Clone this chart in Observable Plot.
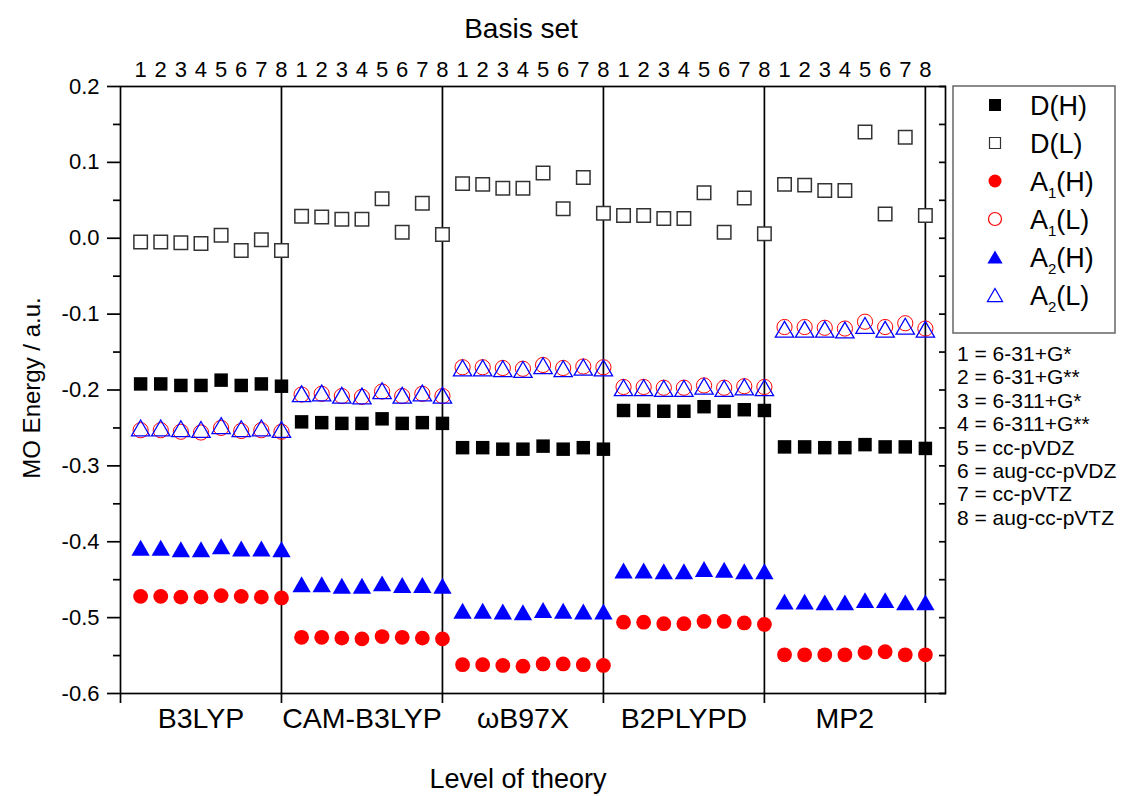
<!DOCTYPE html>
<html><head><meta charset="utf-8">
<script src="https://cdn.jsdelivr.net/npm/d3@7"></script>
<script src="https://cdn.jsdelivr.net/npm/@observablehq/plot@0.6"></script>
<style>
body{margin:0;background:#fff;font-family:"Liberation Sans",Arial,sans-serif}
svg text{font-family:"Liberation Sans",Arial,sans-serif}
</style>
</head><body><div id="chart"></div>
<script>
// ---- data ----
const methods = ["B3LYP", "CAM-B3LYP", "ωB97X", "B2PLYPD", "MP2"];
const basisTicks = ["1", "2", "3", "4", "5", "6", "7", "8"];
const basisSets = ["6-31+G*", "6-31+G**", "6-311+G*", "6-311+G**", "cc-pVDZ", "aug-cc-pVDZ", "cc-pVTZ", "aug-cc-pVTZ"];
const yMajorTicks = [0.2, 0.1, 0.0, -0.1, -0.2, -0.3, -0.4, -0.5, -0.6];
const yMinorTicks = [0.15, 0.05, -0.05, -0.15, -0.25, -0.35, -0.45, -0.55];

// values per method (B3LYP, CAM-B3LYP, wB97X, B2PLYPD, MP2), 8 basis sets each
const D_H = [
  -0.192,-0.192,-0.194,-0.194,-0.187,-0.194,-0.192,-0.195,
  -0.242,-0.243,-0.244,-0.244,-0.238,-0.244,-0.243,-0.244,
  -0.276,-0.276,-0.278,-0.278,-0.274,-0.278,-0.276,-0.278,
  -0.227,-0.227,-0.228,-0.228,-0.222,-0.228,-0.226,-0.227,
  -0.275,-0.275,-0.276,-0.276,-0.272,-0.275,-0.275,-0.277
];
const D_L = [
  -0.005,-0.005,-0.006,-0.007, 0.004,-0.016,-0.002,-0.016,
   0.029, 0.028, 0.025, 0.025, 0.052, 0.008, 0.046, 0.005,
   0.072, 0.071, 0.066, 0.066, 0.086, 0.039, 0.080, 0.033,
   0.030, 0.030, 0.026, 0.026, 0.060, 0.008, 0.053, 0.006,
   0.071, 0.070, 0.063, 0.063, 0.140, 0.032, 0.133, 0.030
];
const A1_H = [
  -0.472,-0.472,-0.473,-0.473,-0.471,-0.472,-0.473,-0.474,
  -0.526,-0.526,-0.527,-0.528,-0.525,-0.526,-0.527,-0.528,
  -0.562,-0.562,-0.563,-0.564,-0.561,-0.561,-0.562,-0.563,
  -0.506,-0.506,-0.508,-0.508,-0.505,-0.505,-0.507,-0.509,
  -0.549,-0.549,-0.549,-0.549,-0.546,-0.545,-0.549,-0.549
];
const A1_L = [
  -0.253,-0.253,-0.255,-0.256,-0.250,-0.254,-0.253,-0.255,
  -0.206,-0.205,-0.208,-0.209,-0.202,-0.208,-0.205,-0.208,
  -0.170,-0.170,-0.171,-0.172,-0.167,-0.171,-0.169,-0.170,
  -0.196,-0.196,-0.197,-0.197,-0.194,-0.197,-0.195,-0.196,
  -0.117,-0.117,-0.118,-0.119,-0.110,-0.117,-0.112,-0.119
];
const A2_H = [
  -0.408,-0.408,-0.410,-0.410,-0.406,-0.409,-0.409,-0.410,
  -0.456,-0.456,-0.458,-0.458,-0.455,-0.457,-0.457,-0.458,
  -0.491,-0.491,-0.492,-0.493,-0.490,-0.491,-0.492,-0.492,
  -0.438,-0.438,-0.439,-0.439,-0.436,-0.437,-0.439,-0.439,
  -0.479,-0.479,-0.480,-0.480,-0.477,-0.477,-0.480,-0.480
];
const A2_L = [
  -0.250,-0.250,-0.251,-0.252,-0.247,-0.251,-0.250,-0.252,
  -0.205,-0.204,-0.207,-0.208,-0.201,-0.207,-0.204,-0.207,
  -0.171,-0.171,-0.172,-0.173,-0.168,-0.172,-0.170,-0.171,
  -0.197,-0.197,-0.198,-0.198,-0.195,-0.198,-0.196,-0.197,
  -0.120,-0.120,-0.120,-0.121,-0.115,-0.120,-0.116,-0.120
];

// ---- build table ----
const positions = d3.range(1, methods.length * basisTicks.length + 1);
const toRows = arr => arr.map((v, i) => ({pos: positions[i], value: v, method: methods[Math.floor(i / 8)], basis: basisTicks[i % 8]}));
const separators = methods.map((m, i) => (i + 1) * 8);
const boundaryTicks = [0, ...separators];
const mids = methods.map((m, i) => i * 8 + 4);

const plot = Plot.plot({
  width: 1123,
  height: 796,
  marginLeft: 120,
  marginRight: 178,
  marginTop: 86,
  marginBottom: 103,
  style: {fontFamily: '"Liberation Sans", Arial, sans-serif', color: "black", background: "white"},
  x: {domain: [0, 41], axis: null},
  y: {domain: [-0.6, 0.2], axis: null},
  marks: [
    Plot.ruleX(separators, {stroke: "black", strokeWidth: 1.7}),
    Plot.frame({stroke: "black", strokeWidth: 1.7}),
    Plot.axisY(yMajorTicks, {anchor: "left", tickSize: 13, tickPadding: 8, strokeWidth: 1.7, fontSize: 22, tickFormat: d => d.toFixed(1), label: null}),
    Plot.axisY(yMinorTicks, {anchor: "left", tickSize: 7, strokeWidth: 1.7, tickFormat: () => "", label: null}),
    Plot.axisY([...yMajorTicks, ...yMinorTicks], {anchor: "right", tickSize: -7, strokeWidth: 1.7, tickFormat: () => "", label: null}),
    Plot.axisX(positions, {anchor: "top", tickSize: 0, tickPadding: 10, fontSize: 22, tickFormat: p => basisTicks[(p - 1) % 8], label: null}),
    Plot.axisX(boundaryTicks, {anchor: "bottom", tickSize: 10, strokeWidth: 1.7, tickFormat: () => "", label: null}),
    Plot.axisX(mids, {anchor: "bottom", tickSize: 0, tickPadding: 14, fontSize: 28.5, tickFormat: p => methods[(p - 4) / 8], label: null}),
    Plot.dot(toRows(D_L), {x: "pos", y: "value", symbol: "square", r: 7.6, fill: "white", stroke: "#333", strokeWidth: 1.5}),
    Plot.dot(toRows(D_H), {x: "pos", y: "value", symbol: "square", r: 7.6, fill: "black"}),
    Plot.dot(toRows(A1_L), {x: "pos", y: "value", symbol: "circle", r: 7.6, fill: "none", stroke: "#ff0000", strokeWidth: 1}),
    Plot.dot(toRows(A2_L), {x: "pos", y: "value", symbol: "triangle", r: 6.8, dy: 2.6, fill: "none", stroke: "#0000ff", strokeWidth: 1.3}),
    Plot.dot(toRows(A1_H), {x: "pos", y: "value", symbol: "circle", r: 7.4, fill: "#ff0000"}),
    Plot.dot(toRows(A2_H), {x: "pos", y: "value", symbol: "triangle", r: 6.8, dy: 2.6, fill: "#0000ff"})
  ]
});
document.getElementById("chart").appendChild(plot);

// ---- titles, legend, basis key ----
const svg = d3.select(plot);
const ff = '"Liberation Sans", Arial, sans-serif';
svg.append("text").attr("x", 521).attr("y", 38).attr("text-anchor", "middle")
  .attr("font-size", 28).attr("font-family", ff).attr("fill", "black").text("Basis set");
svg.append("text").attr("x", 518).attr("y", 788).attr("text-anchor", "middle")
  .attr("font-size", 27).attr("font-family", ff).attr("fill", "black").text("Level of theory");
svg.append("text").attr("transform", "translate(40,388) rotate(-90)").attr("text-anchor", "middle")
  .attr("font-size", 24).attr("font-family", ff).attr("fill", "black").text("MO Energy / a.u.");

const legendItems = [
  {base: "D", sub: "", rest: "(H)", type: d3.symbolSquare, size: 144, fill: "black", stroke: "none", dy: 0},
  {base: "D", sub: "", rest: "(L)", type: d3.symbolSquare, size: 121, fill: "white", stroke: "#333", dy: 0},
  {base: "A", sub: "1", rest: "(H)", type: d3.symbolCircle, size: Math.PI * 6.5 * 6.5, fill: "#ff0000", stroke: "none", dy: 0},
  {base: "A", sub: "1", rest: "(L)", type: d3.symbolCircle, size: Math.PI * 6.5 * 6.5, fill: "none", stroke: "#ff0000", dy: 0},
  {base: "A", sub: "2", rest: "(H)", type: d3.symbolTriangle, size: 100, fill: "#0000ff", stroke: "none", dy: 2.2},
  {base: "A", sub: "2", rest: "(L)", type: d3.symbolTriangle, size: 100, fill: "none", stroke: "#0000ff", dy: 2.2}
];
const lg = svg.append("g").attr("text-anchor", "start");
lg.append("rect").attr("x", 953).attr("y", 86).attr("width", 162).attr("height", 247)
  .attr("fill", "white").attr("stroke", "#666").attr("stroke-width", 1.5);
legendItems.forEach((it, i) => {
  const cy = 105 + i * 38;
  lg.append("path").attr("d", d3.symbol(it.type, it.size)())
    .attr("transform", `translate(995,${cy + it.dy})`)
    .attr("fill", it.fill).attr("stroke", it.stroke).attr("stroke-width", 1.2);
  const t = lg.append("text").attr("x", 1030).attr("y", cy + 10).attr("font-size", 27)
    .attr("text-anchor", "start").attr("font-family", ff).attr("fill", "black");
  t.append("tspan").text(it.base);
  if (it.sub) {
    t.append("tspan").attr("font-size", 15).attr("dy", 7).text(it.sub);
    t.append("tspan").attr("dy", -7).text(it.rest);
  } else {
    t.append("tspan").text(it.rest);
  }
});
basisSets.forEach((b, i) => {
  svg.append("text").attr("x", 957).attr("y", 361 + i * 23.4).attr("font-size", 21)
    .attr("text-anchor", "start").attr("font-family", ff).attr("fill", "black").text(`${basisTicks[i]} = ${b}`);
});
</script>
</body></html>
